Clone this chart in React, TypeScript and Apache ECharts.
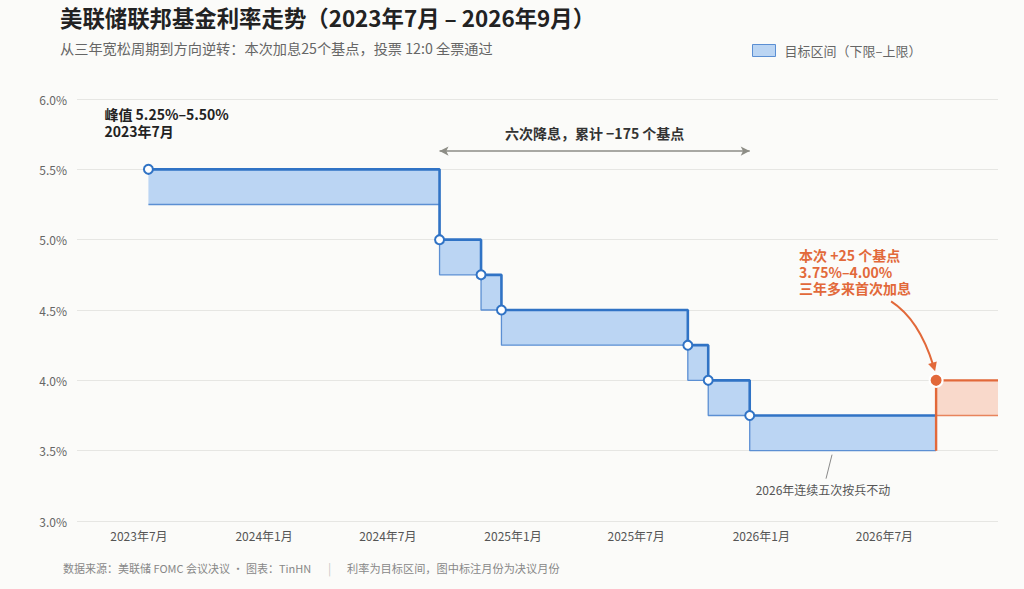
import { useEffect, useRef } from "react";
import * as echarts from "echarts";

// FOMC decisions (marked mid-month of the decision month), target range in %
const decisionDates = [
  "2023-07-15",
  "2024-09-15",
  "2024-11-15",
  "2024-12-15",
  "2025-09-15",
  "2025-10-15",
  "2025-12-15",
  "2026-09-15",
];
const lowerBound = [5.25, 4.75, 4.5, 4.25, 4.0, 3.75, 3.5, 3.75];
const upperBound = [5.5, 5.0, 4.75, 4.5, 4.25, 4.0, 3.75, 4.0];

// x axis range and label months
const axisStart = "2023-04-01";
const axisEnd = "2026-12-15";
const xTickMonths = [
  "2023-07-01",
  "2024-01-01",
  "2024-07-01",
  "2025-01-01",
  "2025-07-01",
  "2026-01-01",
  "2026-07-01",
];

const LEGEND_NAME = "目标区间（下限–上限）";
const PEAK_NOTE = ["峰值 5.25%–5.50%", "2023年7月"];
const HIKE_NOTE = ["本次 +25 个基点", "3.75%–4.00%", "三年多来首次加息"];

const BLUE = "#3073c5";
const BLUE_EDGE = "#5b8fd3";
const BLUE_FILL = "#bbd5f3";
const ORANGE = "#e2693a";
const ORANGE_EDGE = "#e8845c";
const ORANGE_FILL = "#f9d9cb";
const BG = "#fbfbf9";
const FONT = '"Noto Sans CJK SC", "Noto Sans", sans-serif';

const ts = (d: string) => new Date(`${d}T00:00:00`).getTime();

const App = () => {
  const chartRef = useRef<HTMLDivElement>(null);

  useEffect(() => {
    if (!chartRef.current) return;
    const chart = echarts.init(chartRef.current, null, { renderer: "svg" });

    const hike = decisionDates.length - 1;
    const hikeDate = decisionDates[hike];

    // one rectangle per period: [start, end, low, high, isHike]
    const segments = decisionDates.map((d, i) => [
      ts(d),
      ts(decisionDates[i + 1] ?? axisEnd),
      lowerBound[i],
      upperBound[i],
      i === hike ? 1 : 0,
    ]);

    const cutUpper = decisionDates
      .slice(0, hike)
      .map((d, i) => [ts(d), upperBound[i]])
      .concat([[ts(hikeDate), upperBound[hike - 1]]]);
    const cutLower = decisionDates
      .slice(0, hike)
      .map((d, i) => [ts(d), lowerBound[i]])
      .concat([[ts(hikeDate), lowerBound[hike - 1]]]);
    const markers = decisionDates.slice(0, hike).map((d, i) => [ts(d), upperBound[i]]);
    const hikeUpper = [
      [ts(hikeDate), lowerBound[hike - 1]],
      [ts(hikeDate), upperBound[hike]],
      [ts(axisEnd), upperBound[hike]],
    ];
    const hikeLower = [
      [ts(hikeDate), lowerBound[hike]],
      [ts(axisEnd), lowerBound[hike]],
    ];

    chart.setOption({
      animation: false,
      backgroundColor: BG,
      textStyle: { fontFamily: FONT },
      title: {
        text: "美联储联邦基金利率走势（2023年7月 – 2026年9月）",
        subtext: "从三年宽松周期到方向逆转：本次加息25个基点，投票 12:0 全票通过",
        left: 60,
        top: 6,
        padding: 0,
        itemGap: 13,
        textStyle: { fontSize: 22.4, fontWeight: "bold", color: "#222" },
        subtextStyle: { fontSize: 14.2, color: "#666" },
      },
      legend: {
        data: [LEGEND_NAME],
        left: 752,
        top: 44,
        padding: 0,
        icon: "rect",
        itemWidth: 23,
        itemHeight: 12,
        itemStyle: { color: BLUE_FILL, borderColor: BLUE_EDGE, borderWidth: 1 },
        textStyle: { fontSize: 13, color: "#666", padding: [0, 0, 0, 4] },
        selectedMode: false,
      },
      grid: { left: 77, right: 26, top: 99, bottom: 68 },
      xAxis: {
        type: "value",
        min: ts(axisStart),
        max: ts(axisEnd),
        axisLine: { show: false },
        axisTick: { show: false },
        splitLine: { show: false },
        axisLabel: {
          customValues: xTickMonths.map(ts),
          formatter: (v: number) => {
            const d = new Date(v);
            return `${d.getFullYear()}年${d.getMonth() + 1}月`;
          },
          color: "#555",
          fontSize: 12,
          margin: 8,
        },
      },
      yAxis: {
        type: "value",
        min: 3,
        max: 6,
        interval: 0.5,
        axisLine: { show: false },
        axisTick: { show: false },
        splitLine: { lineStyle: { color: "#e6e6e3", width: 1 } },
        axisLabel: {
          formatter: (v: number) => `${v.toFixed(1)}%`,
          color: "#666",
          fontSize: 12,
          margin: 10,
        },
      },
      series: [
        {
          name: LEGEND_NAME,
          type: "custom",
          z: 1,
          silent: true,
          itemStyle: { color: BLUE_FILL, borderColor: BLUE_EDGE },
          encode: { x: [0, 1], y: [2, 3] },
          data: segments,
          renderItem: (_params: any, api: any) => {
            const p0 = api.coord([api.value(0), api.value(3)]);
            const p1 = api.coord([api.value(1), api.value(2)]);
            return {
              type: "rect",
              shape: { x: p0[0], y: p0[1], width: p1[0] - p0[0], height: p1[1] - p0[1] },
              style: { fill: api.value(4) ? ORANGE_FILL : BLUE_FILL },
            };
          },
        },
        {
          type: "line",
          step: "end",
          z: 2,
          silent: true,
          showSymbol: false,
          data: cutLower,
          lineStyle: { color: BLUE_EDGE, width: 1.3 },
        },
        {
          type: "line",
          step: "end",
          z: 3,
          silent: true,
          showSymbol: false,
          data: cutUpper,
          lineStyle: { color: BLUE, width: 2.6 },
          markLine: {
            silent: true,
            symbol: ["arrow", "arrow"],
            symbolSize: [7, 9],
            lineStyle: { color: "#8d8d86", width: 1.5, type: "solid" },
            label: {
              show: true,
              position: "middle",
              formatter: "六次降息，累计 −175 个基点",
              color: "#333",
              fontSize: 14,
              fontWeight: "bold",
              distance: 11,
            },
            emphasis: { disabled: true },
            data: [
              [
                { coord: [ts(decisionDates[1]), 5.63] },
                { coord: [ts(decisionDates[hike - 1]), 5.63] },
              ],
            ],
          },
        },
        {
          type: "line",
          z: 2,
          silent: true,
          showSymbol: false,
          data: hikeLower,
          lineStyle: { color: ORANGE_EDGE, width: 1.3 },
        },
        {
          type: "line",
          z: 3,
          silent: true,
          showSymbol: false,
          data: hikeUpper,
          lineStyle: { color: ORANGE, width: 2.4 },
        },
        {
          type: "scatter",
          z: 5,
          silent: true,
          symbol: "circle",
          symbolSize: 9,
          data: markers,
          itemStyle: { color: "#fff", borderColor: BLUE, borderWidth: 2, opacity: 1 },
        },
        {
          type: "scatter",
          z: 6,
          silent: true,
          symbol: "circle",
          symbolSize: 13,
          data: [[ts(hikeDate), upperBound[hike]]],
          itemStyle: { color: ORANGE, borderColor: "#fff", borderWidth: 2, opacity: 1 },
        },
      ],
    });

    // annotations anchored to data positions
    const at = (t: number, v: number) =>
      chart.convertToPixel({ gridIndex: 0 }, [t, v]) as number[];
    const peak = at(ts(decisionDates[0]), upperBound[0]);
    const hp = at(ts(hikeDate), upperBound[hike]);
    const hold = at(ts("2026-04-15"), lowerBound[hike - 1]);

    const noteLines = (lines: string[], x: number, y: number, step: number, fill: string) =>
      lines.map((text, i) => ({
        type: "text",
        x,
        y: y + i * step,
        silent: true,
        style: { text, fill, font: `bold 14px ${FONT}`, verticalAlign: "middle" },
      }));

    // curved arrow to the hike point
    const start = [hp[0] - 45, hp[1] - 79];
    const ctrl = [hp[0] - 17, hp[1] - 61];
    const tip = [hp[0] - 1, hp[1] - 9];
    const dx = tip[0] - ctrl[0];
    const dy = tip[1] - ctrl[1];
    const len = Math.hypot(dx, dy);
    const ux = dx / len;
    const uy = dy / len;
    const bx = tip[0] - ux * 9;
    const by = tip[1] - uy * 9;
    const head = [
      [tip[0], tip[1]],
      [bx + uy * 4.5, by - ux * 4.5],
      [bx - uy * 4.5, by + ux * 4.5],
    ];

    chart.setOption({
      graphic: [
        ...noteLines(PEAK_NOTE, peak[0] - 44, peak[1] - 55, 16.5, "#222"),
        ...noteLines(HIKE_NOTE, hp[0] - 137, hp[1] - 125, 16.5, ORANGE),
        {
          type: "bezierCurve",
          silent: true,
          shape: {
            x1: start[0],
            y1: start[1],
            cpx1: ctrl[0],
            cpy1: ctrl[1],
            x2: tip[0] - ux * 6,
            y2: tip[1] - uy * 6,
          },
          style: { stroke: ORANGE, lineWidth: 2, fill: "none" },
        },
        {
          type: "polygon",
          silent: true,
          shape: { points: head },
          style: { fill: ORANGE },
        },
        {
          type: "line",
          silent: true,
          shape: { x1: hold[0], y1: hold[1] + 4, x2: hold[0] - 6, y2: hold[1] + 28 },
          style: { stroke: "#8a8a8a", lineWidth: 1 },
        },
        {
          type: "text",
          x: hold[0] - 9,
          y: hold[1] + 39,
          silent: true,
          style: {
            text: "2026年连续五次按兵不动",
            fill: "#555",
            font: `12px ${FONT}`,
            align: "center",
            verticalAlign: "middle",
          },
        },
        {
          type: "text",
          left: 63,
          top: 562,
          silent: true,
          style: {
            text: "数据来源：美联储 FOMC 会议决议 · 图表：TinHN",
            fill: "#888",
            font: `11px ${FONT}`,
          },
        },
        {
          type: "text",
          left: 328,
          top: 561,
          silent: true,
          style: { text: "|", fill: "#c8c8c8", font: `12px ${FONT}` },
        },
        {
          type: "text",
          left: 347,
          top: 562,
          silent: true,
          style: {
            text: "利率为目标区间，图中标注月份为决议月份",
            fill: "#888",
            font: `11.2px ${FONT}`,
          },
        },
      ],
    });

    return () => {
      chart.dispose();
    };
  }, []);

  return (
    <div
      ref={chartRef}
      style={{
        position: "fixed",
        left: 0,
        top: 0,
        width: 1024,
        height: 589,
        background: BG,
      }}
    />
  );
};

export default App;
